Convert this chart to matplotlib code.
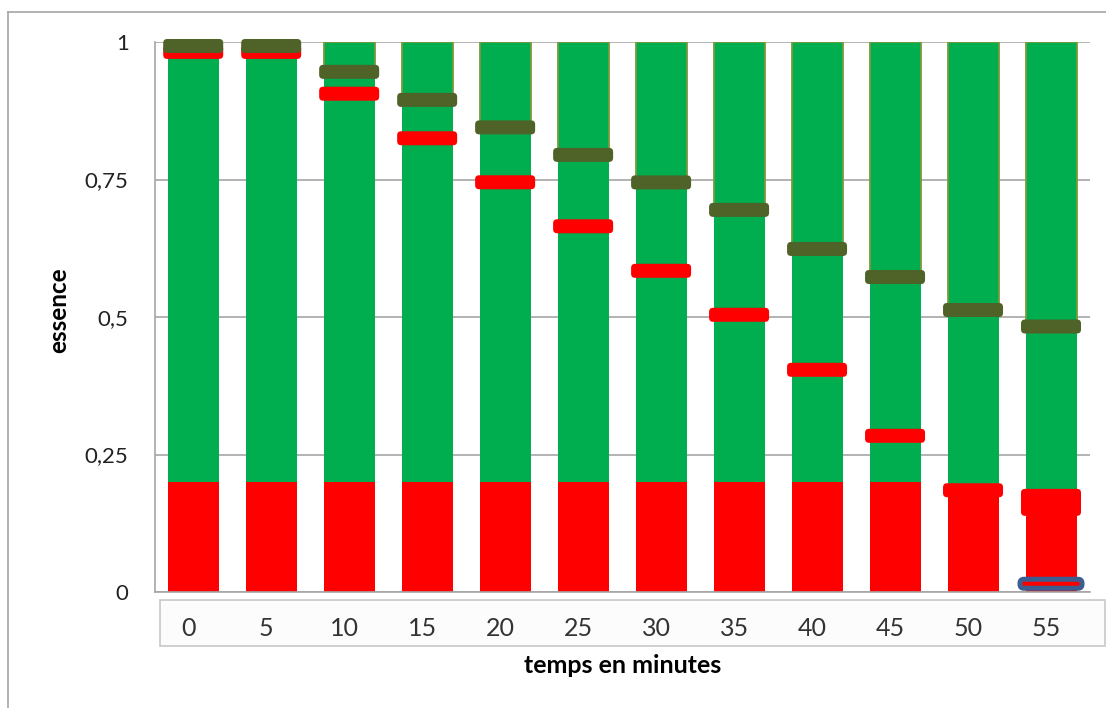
import matplotlib
matplotlib.use("Agg")
import matplotlib.pyplot as plt
import matplotlib.transforms as mtransforms
from matplotlib.patches import FancyBboxPatch, Rectangle
from matplotlib.lines import Line2D

plt.rcParams['font.family'] = ['Lato', 'DejaVu Sans']

# ---------------------------------------------------------
# Data
# ---------------------------------------------------------
temps = [0, 5, 10, 15, 20, 25, 30, 35, 40, 45, 50, 55]
essence_rouge = [0.2, 0.2, 0.2, 0.2, 0.2, 0.2, 0.2, 0.2, 0.2, 0.2, 0.187, 0.18]
niveau_olive = [1.0, 1.0, 0.953, 0.902, 0.852, 0.802, 0.752, 0.702, 0.631, 0.58, 0.52, 0.49]
repere_rouge = [0.982, 0.982, 0.906, 0.825, 0.745, 0.665, 0.584, 0.504, 0.404, 0.284, 0.185, 0.163]
repere_bleu = {55: 0.015}
y_ticks = [0, 0.25, 0.5, 0.75, 1]
y_labels = ["0", "0,25", "0,5", "0,75", "1"]

# colours
ROUGE = "#FF0000"
VERT = "#00AD4F"
OLIVE = "#4F6228"
OLIVE_CLAIR = "#7A9A3C"
BLEU = "#3D5C8F"
GRIS = "#A6A6A6"

W, H = 1106, 708
fig = plt.figure(figsize=(W / 100, H / 100), dpi=100)
ax_left, ax_right, ax_top, ax_bot = 155, 1090, 42, 592
ax = fig.add_axes([ax_left / W, 1 - ax_bot / H, (ax_right - ax_left) / W, (ax_bot - ax_top) / H])

x = list(range(len(temps)))
ax.set_xlim(-0.49, len(temps) - 0.5)
ax.set_ylim(0, 1)

px_x = (ax_right - ax_left) / (len(temps) - 0.5 + 0.49)
px_y = (ax_bot - ax_top)

bar_w = 51 / px_x
vert_h = [o - r for o, r in zip(niveau_olive, essence_rouge)]
haut_h = [1 - o for o in niveau_olive]

ax.bar(x, essence_rouge, width=bar_w, color=ROUGE, zorder=2)
ax.bar(x, vert_h, bottom=essence_rouge, width=bar_w, color=VERT, zorder=2)
ax.bar(x, haut_h, bottom=niveau_olive, width=bar_w, color=VERT,
       edgecolor=OLIVE_CLAIR, linewidth=1.3, zorder=2)


def repere(xc, yc, w_px, h_px, face, edge=None, lw=0, r_px=4):
    w = w_px / px_x
    h = h_px / px_y
    p = FancyBboxPatch((xc - w / 2, yc - h / 2), w, h,
                       boxstyle=f"round,pad=0,rounding_size={r_px / px_x}",
                       mutation_aspect=px_x / px_y, facecolor=face,
                       edgecolor=edge if edge else face, linewidth=lw,
                       zorder=4, clip_on=False)
    ax.add_patch(p)


# red markers (the last one is the thick one)
for i, yv in enumerate(repere_rouge):
    h_px = 27 if i == len(temps) - 1 else 14
    repere(i, yv, 60, h_px, ROUGE)

# olive markers, sitting just under the olive boundary
for i, yv in enumerate(niveau_olive):
    repere(i, yv - 4 / px_y, 60, 14, OLIVE)

# blue marker
for t, yv in repere_bleu.items():
    repere(temps.index(t), yv, 62, 9, ROUGE, edge=BLEU, lw=3.6)

# axes styling
for s in ["top", "right"]:
    ax.spines[s].set_visible(False)
for s in ["left", "bottom"]:
    ax.spines[s].set_color(GRIS)
    ax.spines[s].set_linewidth(1.2)
ax.set_yticks(y_ticks)
ax.set_yticklabels(y_labels)
ax.yaxis.grid(True, color=GRIS, linewidth=1.2, zorder=0)
ax.set_axisbelow(True)
ax.tick_params(axis="y", length=0, pad=19, labelsize=16, labelcolor="#222222")
ax.set_xticks(x)
ax.set_xticklabels([str(t) for t in temps])
ax.tick_params(axis="x", length=0, pad=18, labelsize=18, labelcolor="#333333")
shift = mtransforms.ScaledTranslation(-5 / 100, 0, fig.dpi_scale_trans)
for lab in ax.get_xticklabels():
    lab.set_transform(lab.get_transform() + shift)

ax.set_ylabel("essence", fontsize=17.5, fontweight="bold")
ax.yaxis.set_label_coords(-0.091, 0.513)
ax.set_xlabel("temps en minutes", fontsize=18, fontweight="bold")
ax.xaxis.set_label_coords(0.5, -0.112)

# box round the category labels, and the outer frame
fig.patches.append(Rectangle((160 / W, 1 - 646 / H), (1105 - 160) / W, 46 / H,
                             transform=fig.transFigure, facecolor="#FCFCFC",
                             edgecolor="#C8C8C8", linewidth=1.2, zorder=-1))
fig.lines.append(Line2D([8 / W, 8 / W], [0, 1 - 12 / H], transform=fig.transFigure,
                        color=GRIS, linewidth=1.2))
fig.lines.append(Line2D([8 / W, 1], [1 - 12 / H, 1 - 12 / H], transform=fig.transFigure,
                        color=GRIS, linewidth=1.2))

fig.savefig("out.png", dpi=100)
